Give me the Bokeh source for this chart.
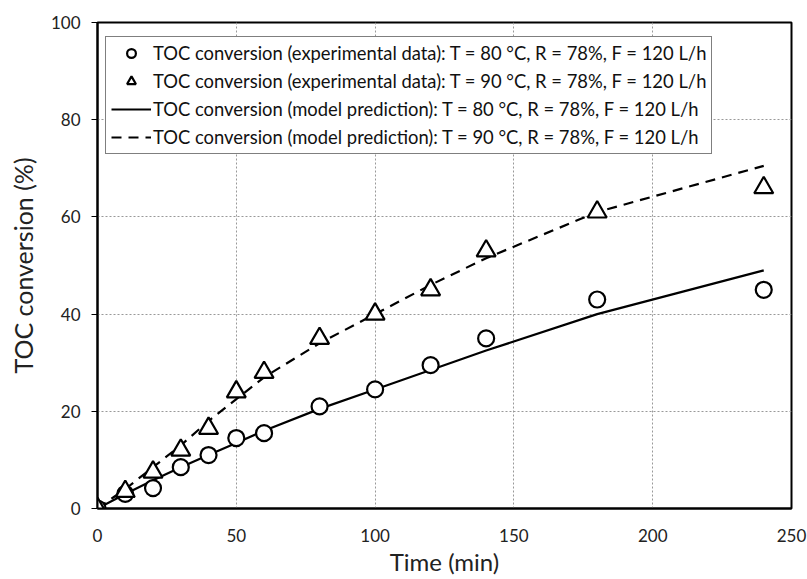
from bokeh.plotting import figure
from bokeh.models import Range1d, Legend, LegendItem, FixedTicker, LinearAxis
from bokeh.embed import file_html
from bokeh.resources import INLINE

time_min = [0, 10, 20, 30, 40, 50, 60, 80, 100, 120, 140, 180, 240]
exp_80 = [0, 3, 4.2, 8.5, 11, 14.5, 15.5, 21, 24.5, 29.5, 35, 43, 45]
exp_90 = [0, 3.5, 7.5, 12, 16.5, 24, 28, 35, 40, 45, 53, 61, 66]
model_80 = [0, 3, 5.8, 8.5, 11, 13.5, 16, 20.5, 24.5, 28.5, 32.5, 40, 49]
model_90 = [0, 4, 8.5, 13, 18, 22.5, 27, 34, 40, 46, 51.5, 61, 70.5]

x_ticks = [0, 50, 100, 150, 200, 250]
y_ticks = [0, 20, 40, 60, 80, 100]

x_title = "Time (min)"
y_title = "TOC conversion (%)"
labels = [
    "TOC conversion (experimental data): T = 80 \u00b0C, R = 78%, F = 120 L/h",
    "TOC conversion (experimental data): T = 90 \u00b0C, R = 78%, F = 120 L/h",
    "TOC conversion (model prediction): T = 80 \u00b0C, R = 78%, F = 120 L/h",
    "TOC conversion (model prediction): T = 90 \u00b0C, R = 78%, F = 120 L/h",
]

FONT = "Lato"

p = figure(width=807, height=579, output_backend="svg", toolbar_location=None,
           x_range=Range1d(0, 250), y_range=Range1d(0, 100),
           min_border_left=97, min_border_right=16, min_border_top=22, min_border_bottom=71)

p.outline_line_color = "black"
p.outline_line_width = 2

for ax in (p.xaxis[0], p.yaxis[0]):
    ax.axis_line_width = 2
    ax.axis_line_color = "black"
    ax.major_tick_in = 0
    ax.minor_tick_out = 0
    ax.minor_tick_in = 0
    ax.major_label_text_font = FONT
    ax.major_label_text_font_size = "17px"
    ax.major_label_text_color = "#222222"
    ax.axis_label_text_font = FONT
    ax.axis_label_text_font_style = "normal"
    ax.axis_label_text_color = "#222222"

p.xaxis[0].major_tick_out = 0
p.yaxis[0].major_tick_out = 6
p.xaxis[0].ticker = FixedTicker(ticks=x_ticks)
p.yaxis[0].ticker = FixedTicker(ticks=y_ticks)
p.xaxis[0].major_label_standoff = 20
p.yaxis[0].major_label_standoff = 11
p.xaxis[0].axis_label = x_title
p.xaxis[0].axis_label_text_font_size = "24px"
p.xaxis[0].axis_label_standoff = 2

# separate left axis carrying only the y title, centred slightly above the frame centre
title_axis = LinearAxis(ticker=FixedTicker(ticks=[]), bounds=(7, 106),
                        axis_line_color=None, major_tick_out=0, major_tick_in=0,
                        minor_tick_out=0, minor_tick_in=0,
                        axis_label=y_title, axis_label_text_font=FONT,
                        axis_label_text_font_size="25px",
                        axis_label_text_font_style="normal",
                        axis_label_text_color="#222222", axis_label_standoff=10)
p.add_layout(title_axis, "left")

for g in (p.xgrid[0], p.ygrid[0]):
    g.grid_line_color = "#999999"
    g.grid_line_dash = "2 2"
    g.grid_line_width = 1
p.xgrid[0].ticker = FixedTicker(ticks=x_ticks)
p.ygrid[0].ticker = FixedTicker(ticks=y_ticks)

l80 = p.line(time_min, model_80, line_color="black", line_width=2.2)
l90 = p.line(time_min, model_90, line_color="black", line_width=2.2, line_dash="10 7")
c80 = p.scatter(time_min, exp_80, marker="circle", size=16, fill_color="white",
                line_color="black", line_width=2.2)
t90 = p.scatter(time_min, exp_90, marker="triangle", size=19, fill_color="white",
                line_color="black", line_width=2.2)

legend = Legend(items=[
    LegendItem(label=labels[0], renderers=[c80]),
    LegendItem(label=labels[1], renderers=[t90]),
    LegendItem(label=labels[2], renderers=[l80]),
    LegendItem(label=labels[3], renderers=[l90]),
], location=(8, 354))
legend.label_text_font = FONT
legend.label_text_font_size = "18.4px"
legend.label_text_color = "#111111"
legend.glyph_width = 40
legend.glyph_height = 22
legend.label_height = 22
legend.spacing = 6
legend.padding = 5
legend.margin = 0
legend.label_standoff = 2
legend.border_line_color = "black"
legend.border_line_width = 1.5
legend.background_fill_alpha = 1
p.add_layout(legend, "center")

open("out.html", "w").write(file_html(p, INLINE))
